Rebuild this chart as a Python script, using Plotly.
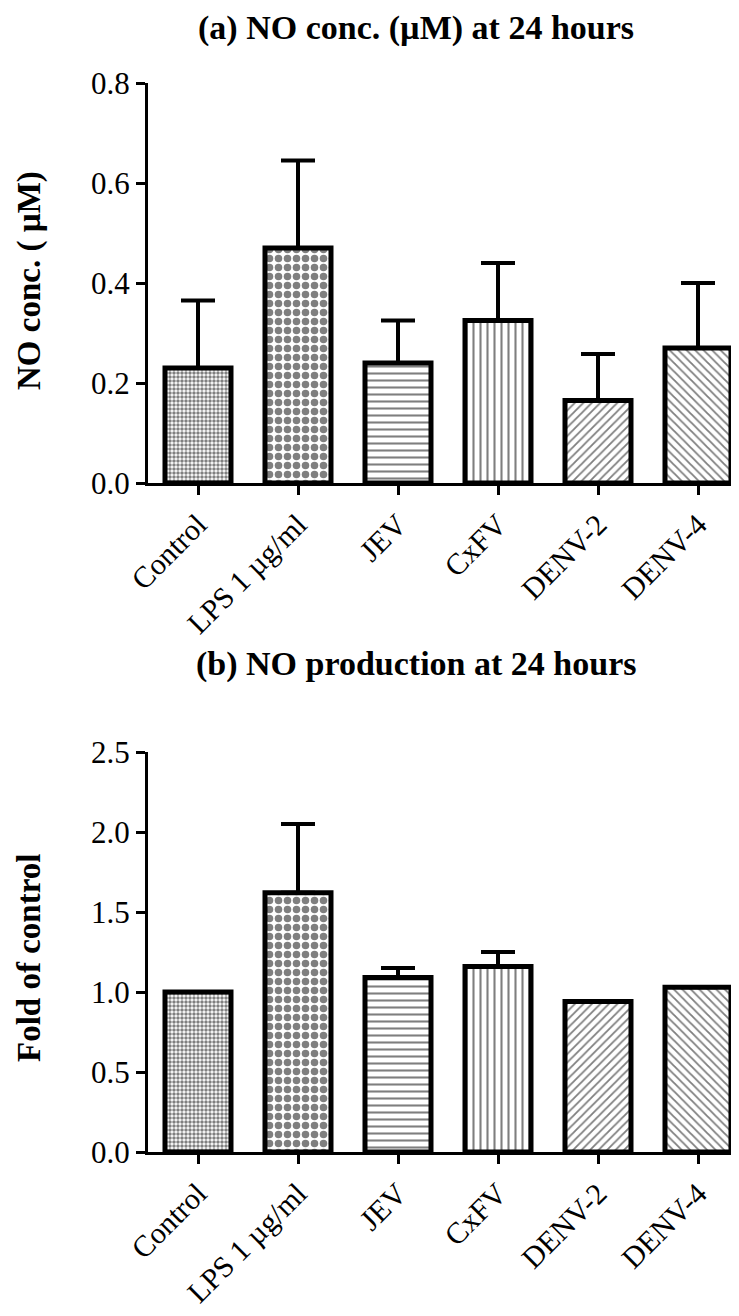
import plotly.graph_objects as go

categories = ["Control", "LPS 1 µg/ml", "JEV", "CxFV", "DENV-2", "DENV-4"]

# Panel (a): NO concentration (µM) at 24 h, mean and upper error
conc_mean = [0.23, 0.47, 0.24, 0.325, 0.165, 0.27]
conc_err = [0.135, 0.175, 0.085, 0.115, 0.093, 0.13]

# Panel (b): fold of control at 24 h
fold_mean = [1.0, 1.62, 1.09, 1.16, 0.94, 1.03]
fold_err = [0.0, 0.43, 0.06, 0.09, 0.0, 0.0]

pattern_shapes = [".", ".", "-", "|", "/", "\\"]
pattern_sizes = [4, 9, 7, 7, 6, 6]
pattern_solid = [0.6, 0.55, 0.3, 0.3, 0.3, 0.3]

W, H = 739, 1316
OFF = 8  # page body margin
FONT = "Liberation Serif"

fig = go.Figure()


def add_panel(means, errs, xref, yref):
    fig.add_trace(go.Bar(
        x=categories, y=means,
        xaxis=xref, yaxis=yref,
        width=0.66,
        marker=dict(
            color="white",
            line=dict(color="black", width=5),
            pattern=dict(shape=pattern_shapes, size=pattern_sizes,
                         solidity=pattern_solid, fgcolor="black",
                         bgcolor="white", fillmode="overlay"),
        ),
        error_y=dict(type="data", array=errs, arrayminus=[0] * len(errs),
                     symmetric=False, color="black", thickness=4, width=17),
        showlegend=False,
    ))


add_panel(conc_mean, conc_err, "x", "y")
add_panel(fold_mean, fold_err, "x2", "y2")


def px_x(p):
    return (p - OFF) / W


def px_y(p):
    return 1 - (p - OFF) / H


xdom = [px_x(148), 1.0]
ya_dom = [px_y(483), px_y(83)]
yb_dom = [px_y(1152), px_y(752)]
xrange = [-0.5, 5.49]

axis_common = dict(showline=True, linecolor="black", linewidth=3,
                   ticks="outside", tickcolor="black", tickwidth=3, ticklen=9,
                   showgrid=False, zeroline=False, automargin=False)
yfont = dict(family=FONT, size=31, color="black")
xfont = dict(family=FONT, size=30, color="black")
title_font = dict(family=FONT, size=33, color="black")

fig.update_layout(
    width=W, height=H,
    margin=dict(l=0, r=0, t=0, b=0, autoexpand=False),
    paper_bgcolor="white", plot_bgcolor="white",
    xaxis=dict(domain=xdom, anchor="y", range=xrange, tickangle=-45,
               tickfont=xfont, **axis_common),
    yaxis=dict(domain=ya_dom, anchor="x", range=[0, 0.8], dtick=0.2,
               tickformat=".1f", tickfont=yfont, **axis_common),
    xaxis2=dict(domain=xdom, anchor="y2", range=xrange, tickangle=-45,
                tickfont=xfont, **axis_common),
    yaxis2=dict(domain=yb_dom, anchor="x2", range=[0, 2.5], dtick=0.5,
                tickformat=".1f", tickfont=yfont, **axis_common),
    annotations=[
        dict(text="<b>(a) NO conc. (µM) at 24 hours</b>", x=px_x(416), y=px_y(28),
             xref="paper", yref="paper", xanchor="center", yanchor="middle",
             showarrow=False, font=dict(family=FONT, size=34, color="black")),
        dict(text="<b>(b) NO production at 24 hours</b>", x=px_x(416), y=px_y(664),
             xref="paper", yref="paper", xanchor="center", yanchor="middle",
             showarrow=False, font=dict(family=FONT, size=34, color="black")),
        dict(text="<b>NO conc. ( µM)</b>", x=px_x(30), y=px_y(281),
             xref="paper", yref="paper", xanchor="center", yanchor="middle",
             textangle=-90, showarrow=False, font=title_font),
        dict(text="<b>Fold of control</b>", x=px_x(29), y=px_y(958),
             xref="paper", yref="paper", xanchor="center", yanchor="middle",
             textangle=-90, showarrow=False, font=title_font),
    ],
)

fig.write_html("out.html")
